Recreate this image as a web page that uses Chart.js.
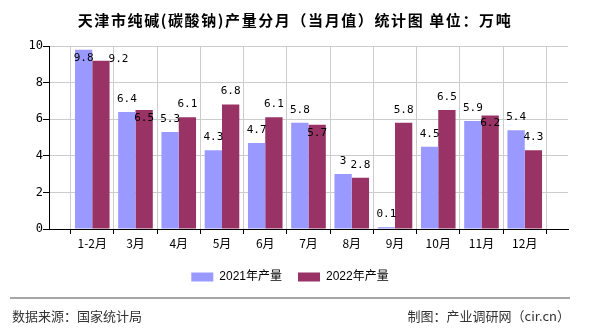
<!DOCTYPE html>
<html>
<head>
<meta charset="utf-8">
<script src="https://cdn.jsdelivr.net/npm/chart.js@4/dist/chart.umd.min.js"></script>
<style>
  body { margin: 0; background: #fff; }
</style>
</head>
<body>
<canvas id="grafica" width="590" height="330"></canvas>
<script>
const MESES = ["1-2月", "3月", "4月", "5月", "6月", "7月", "8月", "9月", "10月", "11月", "12月"];
const PRODUCCION_2021 = [9.8, 6.4, 5.3, 4.3, 4.7, 5.8, 3, 0.1, 4.5, 5.9, 5.4];
const PRODUCCION_2022 = [9.2, 6.5, 6.1, 6.8, 6.1, 5.7, 2.8, 5.8, 6.5, 6.2, 4.3];
const SERIES = ["2021年产量", "2022年产量"];

const TITULO = "天津市纯碱(碳酸钠)产量分月（当月值）统计图 单位：万吨";
const FUENTE = "数据来源：国家统计局";
const AUTOR = "制图：产业调研网（cir.cn）";

const FUENTE_CJK = "'Noto Sans CJK SC', 'Liberation Sans', sans-serif";

Chart.defaults.font.family = "'Liberation Sans', 'Noto Sans CJK SC', sans-serif";
Chart.defaults.color = "#000";

// one empty slot on each side, like the original axis
const etiquetasEje = ["", ...MESES, ""];
const conHueco = arr => [null, ...arr, null];

/* ========================= */
/* TITULO Y PIE              */
/* ========================= */

const pluginMarco = {
  id: "marco",
  afterLayout(chart) {
    // the original legend sits a little right of centre
    if (chart.legend) {
      chart.legend.left += 6;
      chart.legend.right += 6;
    }
  },
  afterDraw(chart) {
    const { ctx } = chart;
    ctx.save();
    ctx.fillStyle = "#000";
    ctx.font = "bold 15px " + FUENTE_CJK;
    ctx.letterSpacing = "1.6px";
    ctx.textAlign = "center";
    ctx.textBaseline = "middle";
    ctx.fillText(TITULO, 295, 20);
    ctx.letterSpacing = "0px";

    ctx.strokeStyle = "#888";
    ctx.lineWidth = 1.5;
    ctx.beginPath();
    ctx.moveTo(10, 298);
    ctx.lineTo(570, 298);
    ctx.stroke();

    ctx.fillStyle = "#333";
    ctx.font = "13px " + FUENTE_CJK;
    ctx.textAlign = "left";
    ctx.fillText(FUENTE, 12, 316);
    ctx.textAlign = "right";
    ctx.fillText(AUTOR, 570, 316);
    ctx.restore();
  }
};

/* ========================= */
/* ETIQUETAS DE VALOR        */
/* ========================= */

const pluginEtiquetas = {
  id: "etiquetas",
  afterDatasetsDraw(chart) {
    const { ctx, chartArea } = chart;
    const alto = 13;
    const colocadas = [];
    ctx.save();
    ctx.font = "11px 'DejaVu Sans Mono', monospace";
    ctx.fillStyle = "#000";
    ctx.textAlign = "center";
    ctx.textBaseline = "middle";

    chart.data.labels.forEach((_, i) => {
      chart.data.datasets.forEach((ds, d) => {
        const v = ds.data[i];
        if (v == null) return;
        const barra = chart.getDatasetMeta(d).data[i];
        const texto = String(v);
        const ancho = ctx.measureText(texto).width;
        const candidatos = [
          { x: barra.x, y: barra.y - 13 },
          { x: barra.x, y: barra.y + 8 },
          { x: barra.x + barra.width / 2 - 1 + ancho / 2, y: barra.y - 1 }
        ];
        const choca = p =>
          p.y - alto / 2 < chartArea.top ||
          colocadas.some(c =>
            Math.abs(c.x - p.x) < (c.w + ancho) / 2 && Math.abs(c.y - p.y) < alto
          );
        const pos = candidatos.find(p => !choca(p)) || candidatos[0];
        colocadas.push({ x: pos.x, y: pos.y, w: ancho });
        ctx.fillText(texto, pos.x, pos.y);
      });
    });
    ctx.restore();
  }
};

new Chart(document.getElementById("grafica"), {
  type: "bar",
  data: {
    labels: etiquetasEje,
    datasets: [
      {
        label: SERIES[0],
        data: conHueco(PRODUCCION_2021),
        backgroundColor: "#9999ff",
        borderColor: "#9999ff",
        borderWidth: 0
      },
      {
        label: SERIES[1],
        data: conHueco(PRODUCCION_2022),
        backgroundColor: "#993366",
        borderColor: "#993366",
        borderWidth: 0
      }
    ]
  },
  options: {
    responsive: false,
    animation: false,
    layout: {
      padding: { top: 46, left: 0, right: 22, bottom: 37 }
    },
    datasets: {
      bar: { categoryPercentage: 0.8, barPercentage: 1 }
    },
    plugins: {
      tooltip: { enabled: false },
      legend: {
        position: "bottom",
        labels: {
          boxWidth: 22,
          boxHeight: 9,
          padding: 16,
          color: "#000",
          font: { size: 12 }
        }
      }
    },
    scales: {
      x: {
        offset: false,
        grid: { color: "#cccccc", tickColor: "#000", tickLength: 5 },
        border: { color: "#000" },
        ticks: {
          color: "#000",
          font: { size: 12, family: FUENTE_CJK },
          padding: 2,
          autoSkip: false,
          maxRotation: 0
        },
        afterFit(s) { s.height = 26; }
      },
      y: {
        min: 0,
        max: 10,
        grid: { color: "#cccccc", tickColor: "#000", tickLength: 6 },
        border: { color: "#000" },
        ticks: {
          stepSize: 2,
          color: "#000",
          padding: 0,
          font: { size: 12, family: "'DejaVu Sans Mono', monospace" }
        },
        afterFit(s) { s.width = 49; }
      }
    }
  },
  plugins: [pluginEtiquetas, pluginMarco]
});
</script>
</body>
</html>
